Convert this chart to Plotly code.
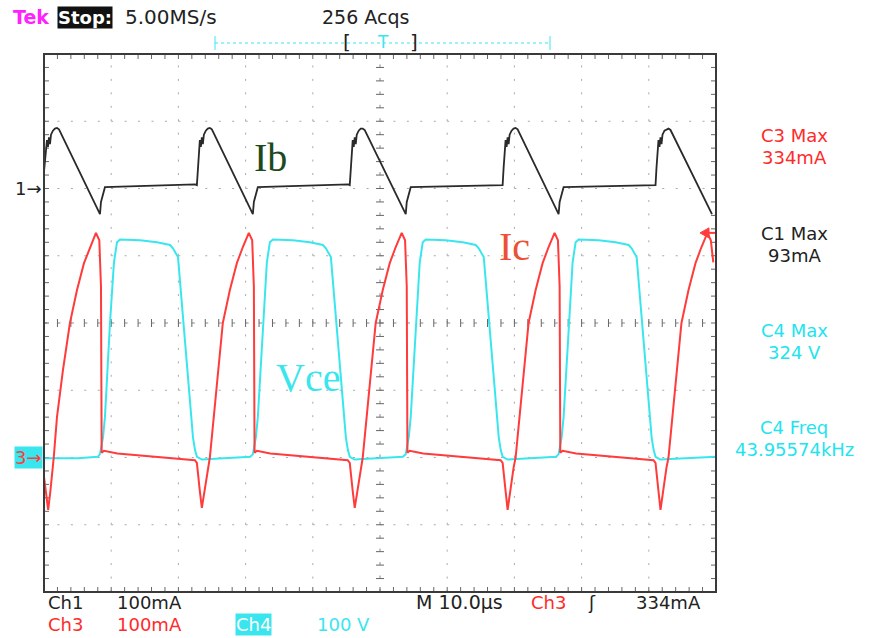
import plotly.graph_objects as go

# ---------------- data read from the scope screen ----------------
# time axis: microseconds (10 us/div, 0..100 us across the screen)
ib_t = [0.00, 0.14, 0.29, 0.44, 0.59, 0.74, 0.89, 1.04, 1.33, 1.63, 1.93, 2.23, 8.33, 8.48, 9.07, 12.0, 17.0, 22.5,
        22.75, 22.89, 23.04, 23.19, 23.34, 23.49, 23.64, 23.79, 24.08, 24.38, 24.68, 24.98, 31.08, 31.23, 31.82, 35.0, 40.0, 45.3,
        45.50, 45.64, 45.79, 45.94, 46.09, 46.24, 46.39, 46.54, 46.83, 47.13, 47.43, 47.73, 53.83, 53.98, 54.57, 58.0, 63.0, 68.0,
        68.25, 68.39, 68.54, 68.69, 68.84, 68.99, 69.14, 69.29, 69.58, 69.88, 70.18, 70.48, 76.58, 76.73, 77.32, 81.0, 86.0, 90.8,
        91.00, 91.14, 91.29, 91.44, 91.59, 91.74, 91.89, 92.04, 92.33, 92.63, 92.93, 93.23, 99.40]
ib_mA = [25, 40, 55, 72, 62, 76, 66, 80, 86, 89, 90, 88, -38, -20, 2, 3, 4, 6,
         5, 30, 55, 72, 62, 76, 66, 80, 86, 89, 90, 88, -38, -20, 2, 3, 4, 6,
         5, 30, 55, 72, 62, 76, 66, 80, 86, 89, 89, 87, -38, -20, 2, 3, 4, 6,
         5, 30, 55, 72, 62, 76, 66, 80, 86, 89, 90, 88, -38, -20, 2, 3, 4, 6,
         5, 30, 55, 72, 62, 76, 66, 80, 86, 88, 89, 87, -38]

ic_t = [0.00, 0.30, 0.62, 0.95, 1.20, 1.45, 1.93, 2.82, 3.86, 4.91, 5.95, 6.84, 7.43, 7.73, 8.23, 8.48, 8.58, 8.93, 10.93, 15.93, 20.93, 22.45,
        22.75, 22.89, 23.19, 23.49, 23.79, 24.08, 24.38, 24.68, 25.57, 26.61, 27.66, 28.70, 29.59, 30.18, 30.48, 30.98, 31.23, 31.33, 31.68, 33.68, 38.68, 43.68, 45.20,
        45.50, 45.64, 45.94, 46.24, 46.54, 46.83, 47.13, 47.43, 48.32, 49.36, 50.41, 51.45, 52.34, 52.93, 53.23, 53.73, 53.98, 54.08, 54.43, 56.43, 61.43, 66.43, 67.95,
        68.25, 68.39, 68.69, 68.99, 69.29, 69.58, 69.88, 70.18, 71.07, 72.11, 73.16, 74.20, 75.09, 75.68, 75.98, 76.48, 76.73, 76.83, 77.18, 79.18, 84.18, 89.18, 90.70,
        91.00, 91.14, 91.44, 91.74, 92.04, 92.33, 92.63, 92.93, 93.82, 94.86, 95.91, 96.95, 97.84, 98.43, 98.73, 99.23, 99.60]
ic_mA = [-29, -55, -78, -50, -25, 0, 60, 130, 200, 249, 289, 313, 328, 334, 323, 254, 7, 10, 6, 2, -3, -4,
         -8, -25, -50, -75, -55, -35, -15, 0, 92, 200, 249, 289, 313, 328, 334, 323, 254, 7, 10, 6, 2, -3, -4,
         -8, -25, -50, -75, -55, -35, -15, 0, 92, 200, 249, 289, 313, 328, 334, 323, 254, 7, 10, 6, 2, -3, -4,
         -8, -25, -50, -78, -55, -35, -15, 0, 92, 200, 249, 289, 313, 328, 334, 323, 254, 7, 10, 6, 2, -3, -4,
         -8, -25, -50, -78, -55, -35, -15, 0, 92, 200, 249, 289, 313, 328, 334, 323, 290]

vce_t = [0.00, 5.0, 8.0,
         8.33, 8.78, 9.07, 9.82, 10.41, 10.86, 11.31, 14.28, 16.81, 18.75, 19.19, 19.94, 20.23, 20.68, 21.42, 22.17, 22.47, 22.76, 23.5, 27.0, 30.7,
         31.08, 31.53, 31.82, 32.57, 33.16, 33.61, 34.06, 37.03, 39.56, 41.50, 41.94, 42.69, 42.98, 43.43, 44.17, 44.92, 45.22, 45.51, 46.2, 50.0, 53.4,
         53.83, 54.28, 54.57, 55.32, 55.91, 56.36, 56.81, 59.78, 62.31, 64.25, 64.69, 65.44, 65.73, 66.18, 66.92, 67.67, 67.97, 68.26, 69.0, 73.0, 76.2,
         76.58, 77.03, 77.32, 78.07, 78.66, 79.11, 79.56, 82.53, 85.06, 87.00, 87.44, 88.19, 88.48, 88.93, 89.67, 90.42, 90.72, 91.01, 91.7, 95.0, 100.0]
vce_V = [-1, -1, 1,
         5, 30, 60, 200, 290, 320, 324, 323, 320, 316, 311, 298, 264, 200, 115, 30, 11, 1, -3, -1, 1,
         5, 30, 60, 200, 290, 320, 324, 323, 320, 316, 311, 298, 264, 200, 115, 30, 11, 1, -3, -1, 1,
         5, 30, 60, 200, 290, 320, 324, 323, 320, 316, 311, 298, 264, 200, 115, 30, 11, 1, -3, -1, 1,
         5, 30, 60, 200, 290, 320, 324, 323, 320, 316, 311, 298, 264, 200, 115, 30, 11, 1, -3, -1, 1]

# channel settings (per division) and ground positions (in divisions from centre)
ch1_scale_mA, ch1_ground_div = 100, 2
ch3_scale_mA, ch3_ground_div = 100, -2
ch4_scale_V, ch4_ground_div = 100, -2
time_per_div_us = 10
trigger_level_mA = 334

right_readouts = [("C3 Max", "334mA", "#ff2a2a"),
                  ("C1 Max", "93mA", "#222222"),
                  ("C4 Max", "324 V", "#22e4ee"),
                  ("C4 Freq", "43.95574kHz", "#22e4ee")]

# ---------------- figure ----------------
FONT = "DejaVu Sans"
SERIF = "Liberation Serif"
RED = "#ff3b3b"
CYAN = "#3ae6ee"
TRACE_BLACK = "#2a2a2a"

W, H = 872, 638
L, R, T, B = 44, 716, 54, 592   # screen grid in pixels


def X(px):
    return (px - L) / (R - L)


def Y(py):
    return (B - py) / (B - T)


fig = go.Figure()
fig.add_trace(go.Scatter(x=ib_t, y=ib_mA, mode="lines", yaxis="y",
                         line=dict(color=TRACE_BLACK, width=1.8), hoverinfo="skip"))
fig.add_trace(go.Scatter(x=vce_t, y=vce_V, mode="lines", yaxis="y2",
                         line=dict(color=CYAN, width=2), hoverinfo="skip"))
fig.add_trace(go.Scatter(x=ic_t, y=ic_mA, mode="lines", yaxis="y2",
                         line=dict(color=RED, width=2), hoverinfo="skip"))

# ranges: 8 vertical divisions, 10 horizontal divisions
ch1_range = [(-4 - ch1_ground_div) * ch1_scale_mA, (4 - ch1_ground_div) * ch1_scale_mA]
ch3_range = [(-4 - ch3_ground_div) * ch3_scale_mA, (4 - ch3_ground_div) * ch3_scale_mA]

shapes = []
grid_col = "#a8a8a8"
# dotted grid lines
for i in range(1, 10):
    if i == 5:
        continue
    shapes.append(dict(type="line", xref="paper", yref="paper", x0=i / 10, x1=i / 10, y0=0, y1=1,
                       line=dict(color=grid_col, width=1, dash="2px,11.45px"), layer="below"))
for j in range(1, 8):
    if j == 4:
        continue
    shapes.append(dict(type="line", xref="paper", yref="paper", x0=0, x1=1, y0=j / 8, y1=j / 8,
                       line=dict(color=grid_col, width=1, dash="2px,11.44px"), layer="below"))
# centre cross
shapes.append(dict(type="line", xref="paper", yref="paper", x0=0.5, x1=0.5, y0=0, y1=1,
                   line=dict(color="#888", width=1, dash="3px,10.45px"), layer="below"))
shapes.append(dict(type="line", xref="paper", yref="paper", x0=0, x1=1, y0=0.5, y1=0.5,
                   line=dict(color="#888", width=1, dash="3px,10.44px"), layer="below"))

pw, ph = R - L, B - T
path = []
for i in range(1, 50):
    x = i / 50
    tl = 5 / ph
    path.append(f"M{x:.5f},1 L{x:.5f},{1 - tl:.5f}")
    path.append(f"M{x:.5f},0 L{x:.5f},{tl:.5f}")
    c = 4 / ph
    path.append(f"M{x:.5f},{0.5 - c:.5f} L{x:.5f},{0.5 + c:.5f}")
for j in range(1, 40):
    y = j / 40
    tl = 5 / pw
    path.append(f"M0,{y:.5f} L{tl:.5f},{y:.5f}")
    path.append(f"M1,{y:.5f} L{1 - tl:.5f},{y:.5f}")
    c = 4 / pw
    path.append(f"M{0.5 - c:.5f},{y:.5f} L{0.5 + c:.5f},{y:.5f}")
shapes.append(dict(type="path", xref="paper", yref="paper", path=" ".join(path),
                   line=dict(color="#666", width=1), layer="below"))
# border
shapes.append(dict(type="rect", xref="paper", yref="paper", x0=0, x1=1, y0=0, y1=1,
                   line=dict(color="#3a3a3a", width=2), layer="above"))

# top trigger-position bar
shapes.append(dict(type="line", xref="paper", yref="paper", x0=X(215), x1=X(550), y0=Y(43), y1=Y(43),
                   line=dict(color=CYAN, width=1, dash="3px,3px")))
for px in (215, 550):
    shapes.append(dict(type="line", xref="paper", yref="paper", x0=X(px), x1=X(px), y0=Y(36), y1=Y(50),
                       line=dict(color=CYAN, width=1)))
# trigger level arrow on right edge (Ch3)
ty = Y(323 - (trigger_level_mA / ch3_scale_mA + ch3_ground_div) * ph / 8)
shapes.append(dict(type="path", xref="paper", yref="paper",
                   path=f"M{X(700)},{ty} L{X(709)},{ty + 5 / ph} L{X(709)},{ty - 5 / ph} Z",
                   fillcolor=RED, line=dict(color=RED, width=1)))
shapes.append(dict(type="line", xref="paper", yref="paper", x0=X(705), x1=X(715), y0=ty, y1=ty,
                   line=dict(color=RED, width=2)))

annotations = []


def txt(s, px, py, color, size=19, anchor="left", bg=None, family=FONT):
    a = dict(text=s, x=X(px), y=Y(py), xref="paper", yref="paper", xanchor=anchor, yanchor="middle",
             showarrow=False, font=dict(family=family, size=size, color=color))
    if bg:
        a["bgcolor"] = bg
        a["borderpad"] = 0
    annotations.append(a)


# top line
txt("<b>Tek</b>", 11, 17, "#ff22ff", 19)
txt("<b>Stop:</b>", 57, 17, "#ffffff", 18, bg="#111111")
txt("5.00MS/s", 123, 17, "#222222", 20)
txt("256 Acqs", 365, 17, "#222222", 19, anchor="center")
txt("[", 347, 42, "#222222", 20, anchor="center")
txt("]", 414, 42, "#222222", 20, anchor="center")
txt("T", 383, 42, CYAN, 17, anchor="center")

# bottom lines
BS = 18
txt("Ch1", 46, 602, "#222222", BS)
txt("100mA", 115, 602, "#222222", BS)
txt("M 10.0µs", 414, 602, "#222222", BS + 1)
txt("Ch3", 529, 602, "#ff2a2a", BS)
txt("ʃ", 586, 602, "#222222", BS)
txt("334mA", 634, 602, "#222222", BS)
txt("Ch3", 46, 624, "#ff2a2a", BS)
txt("100mA", 115, 624, "#ff2a2a", BS)
txt("Ch4", 235, 624, "#ffffff", BS, bg=CYAN)
txt("100 V", 315, 624, CYAN, BS)

# right readouts
ys = [(135, 157), (233, 255), (330, 352), (427, 449)]
for (l1, l2, col), (y1, y2) in zip(right_readouts, ys):
    txt(l1, 794, y1, col, BS, anchor="center")
    txt(l2, 794, y2, col, BS, anchor="center")

# ground markers
txt("1→", 44, 188, "#222222", 18, anchor="right")
txt("3→", 43, 457, RED, 18, anchor="right", bg=CYAN)

# trace labels
txt("Ib", 270, 158, "#1d4a1d", 40, anchor="center", family=SERIF)
txt("Ic", 514, 246, "#ee5035", 40, anchor="center", family=SERIF)
txt("Vce", 308, 377, CYAN, 40, anchor="center", family=SERIF)

fig.update_layout(
    width=W, height=H,
    margin=dict(l=L, r=W - R, t=T, b=H - B, pad=0),
    paper_bgcolor="white", plot_bgcolor="white",
    showlegend=False,
    xaxis=dict(range=[0, 10 * time_per_div_us], visible=False, fixedrange=True),
    yaxis=dict(range=ch1_range, visible=False, fixedrange=True),
    yaxis2=dict(range=ch3_range, visible=False, overlaying="y", fixedrange=True),
    shapes=shapes, annotations=annotations,
)

fig.write_html("out.html")
